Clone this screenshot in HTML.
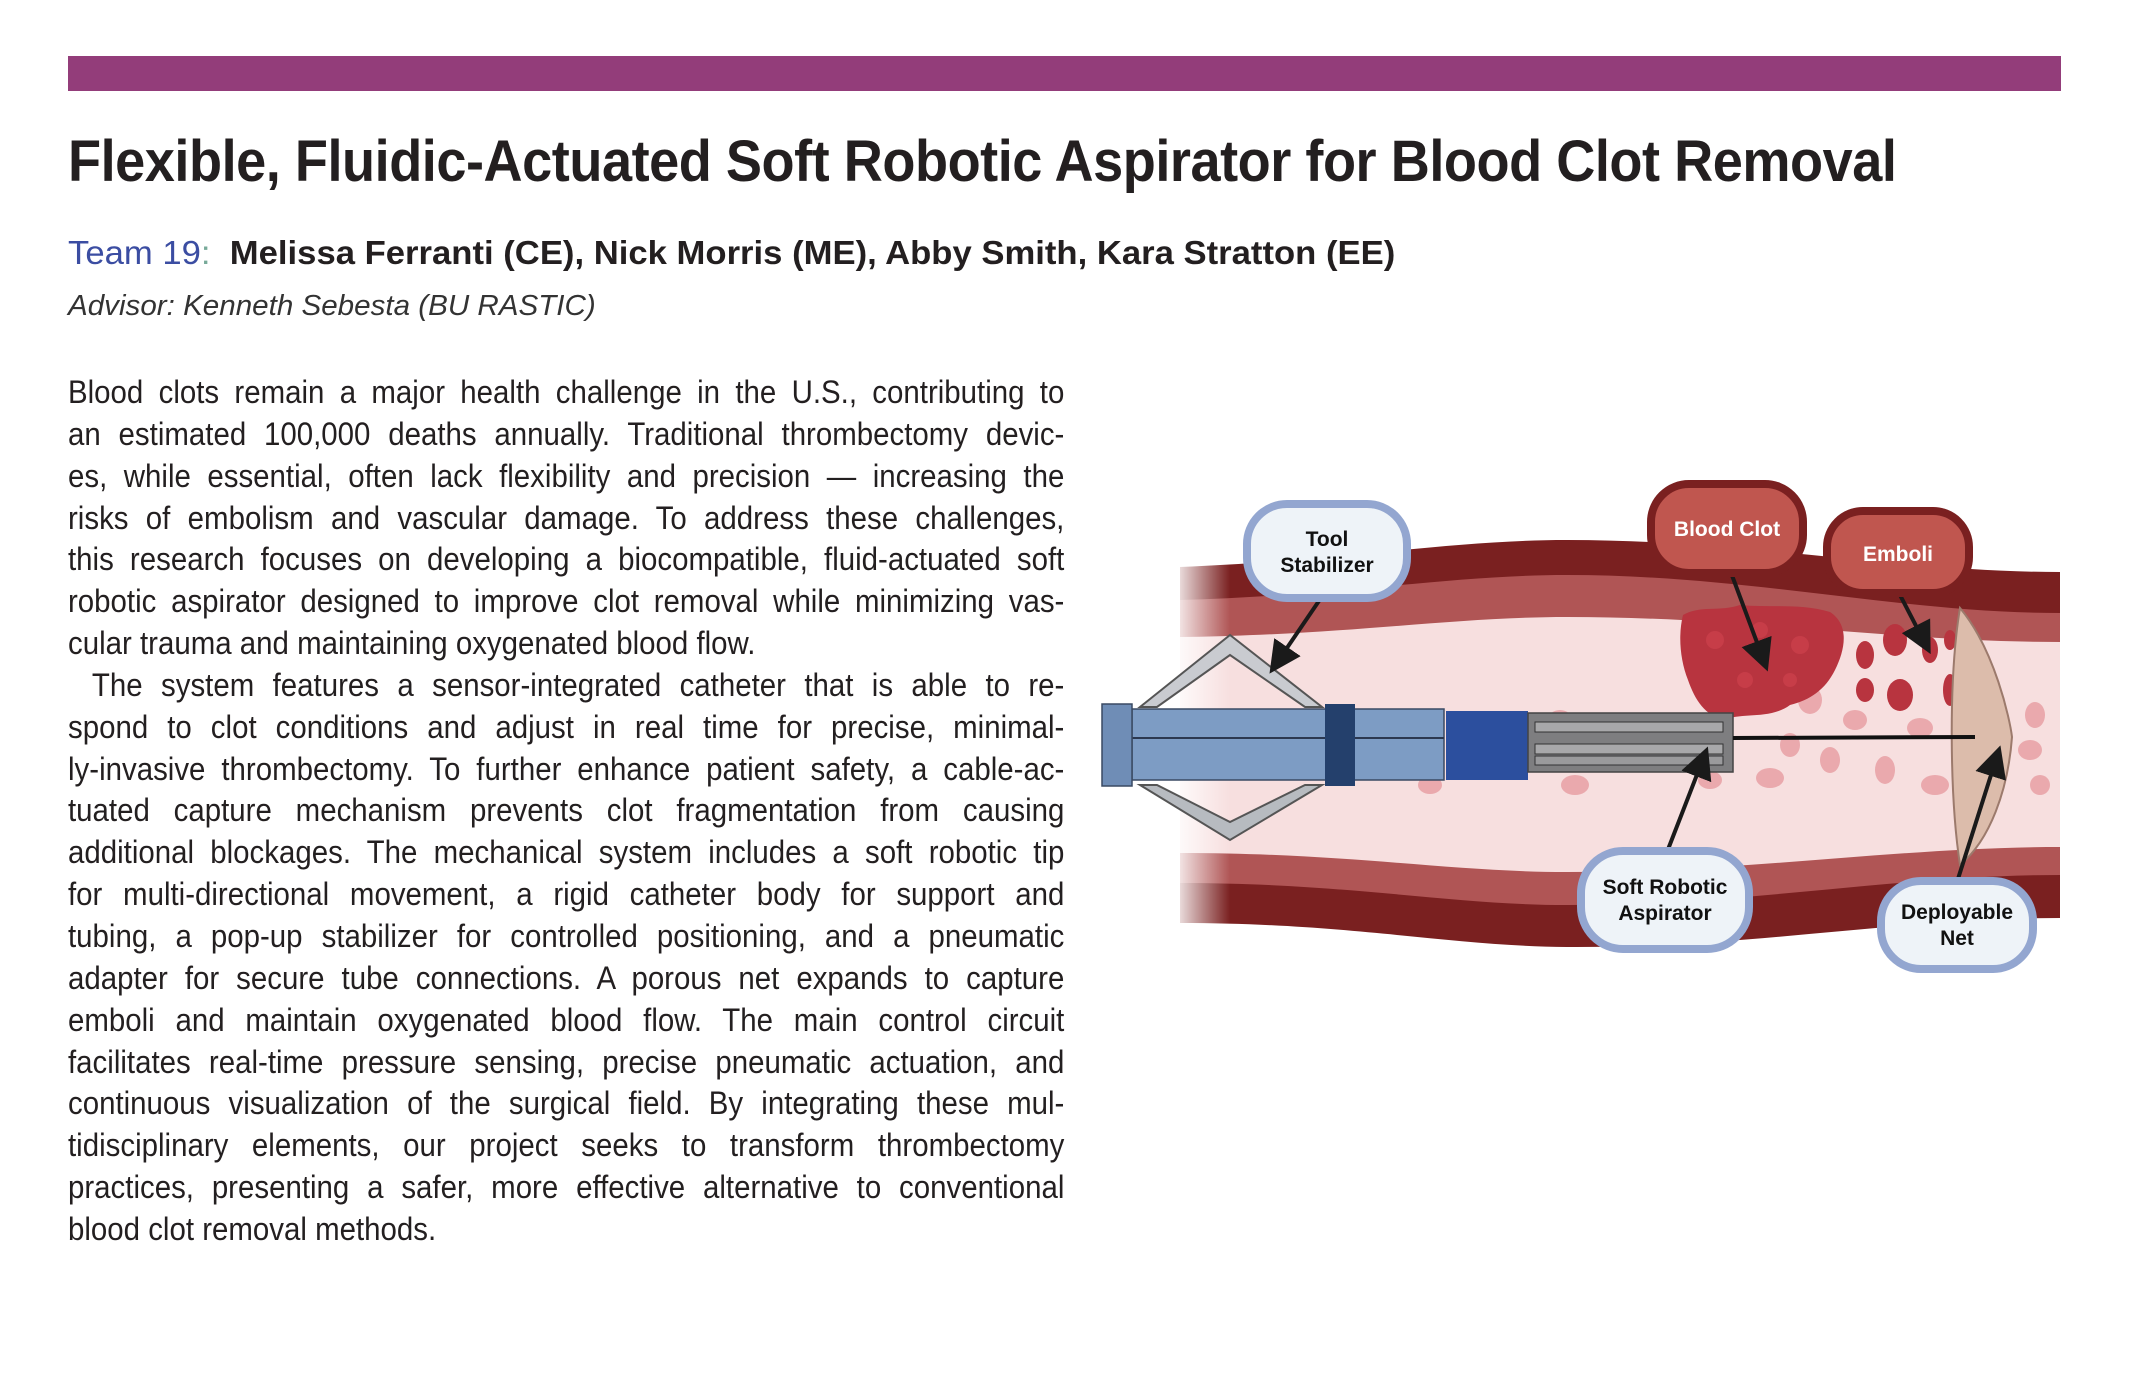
<!DOCTYPE html>
<html><head><meta charset="utf-8"><style>
body{margin:0;width:2130px;height:1376px;background:#fff;position:relative;overflow:hidden;font-family:"Liberation Sans",sans-serif;color:#231f20}
.bar{position:absolute;left:68px;top:56px;width:1993px;height:35px;background:#933d7a}
.title{position:absolute;left:68px;top:128px;font-size:58px;font-weight:bold;white-space:nowrap;transform:scaleX(0.933);transform-origin:left top;letter-spacing:-0.5px}
.team{position:absolute;left:68px;top:234px;font-size:33px;white-space:nowrap;transform:scaleX(1.05);transform-origin:left top}
.team .t{color:#3b4da2}.team b{color:#231f20}
.adv{position:absolute;left:68px;top:290px;font-size:29px;font-style:italic;white-space:nowrap;color:#333;transform:scaleX(1.02);transform-origin:left top}
.body{position:absolute;left:68px;top:372px;width:1083px;font-size:32px;transform:scaleX(0.92);transform-origin:left top}
.body div{height:41.85px;line-height:41.85px;text-align:justify;text-align-last:justify;white-space:nowrap}
.body div.l{text-align-last:left}
.body div.i{padding-left:26px}
svg{position:absolute;left:0;top:0}
</style></head><body>
<div class="bar"></div>
<div class="title">Flexible, Fluidic-Actuated Soft Robotic Aspirator for Blood Clot Removal</div>
<div class="team"><span class="t">Team 19</span><span style="color:#7a9">:</span>&nbsp; <b>Melissa Ferranti (CE), Nick Morris (ME), Abby Smith, Kara Stratton (EE)</b></div>
<div class="adv">Advisor: Kenneth Sebesta (BU RASTIC)</div>
<div class="body">
<div>Blood clots remain a major health challenge in the U.S., contributing to</div>
<div>an estimated 100,000 deaths annually. Traditional thrombectomy devic-</div>
<div>es, while essential, often lack flexibility and precision — increasing the</div>
<div>risks of embolism and vascular damage. To address these challenges,</div>
<div>this research focuses on developing a biocompatible, fluid-actuated soft</div>
<div>robotic aspirator designed to improve clot removal while minimizing vas-</div>
<div class="l">cular trauma and maintaining oxygenated blood flow.</div>
<div class="i">The system features a sensor-integrated catheter that is able to re-</div>
<div>spond to clot conditions and adjust in real time for precise, minimal-</div>
<div>ly-invasive thrombectomy. To further enhance patient safety, a cable-ac-</div>
<div>tuated capture mechanism prevents clot fragmentation from causing</div>
<div>additional blockages. The mechanical system includes a soft robotic tip</div>
<div>for multi-directional movement, a rigid catheter body for support and</div>
<div>tubing, a pop-up stabilizer for controlled positioning, and a pneumatic</div>
<div>adapter for secure tube connections. A porous net expands to capture</div>
<div>emboli and maintain oxygenated blood flow. The main control circuit</div>
<div>facilitates real-time pressure sensing, precise pneumatic actuation, and</div>
<div>continuous visualization of the surgical field. By integrating these mul-</div>
<div>tidisciplinary elements, our project seeks to transform thrombectomy</div>
<div>practices, presenting a safer, more effective alternative to conventional</div>
<div class="l">blood clot removal methods.</div>
</div>
<svg width="2130" height="1376" viewBox="0 0 2130 1376">
<defs>
<linearGradient id="fade" x1="0" x2="1"><stop offset="0" stop-color="#fff" stop-opacity="1"/><stop offset="1" stop-color="#fff" stop-opacity="0"/></linearGradient>
<marker id="ah" markerWidth="8" markerHeight="8" refX="6" refY="4" orient="auto" markerUnits="strokeWidth"><path d="M0,0 L8,4 L0,8 Z" fill="#1a1a1a"/></marker>
</defs>
<path d="M1180,567 C1350,560 1450,540 1567,540 C1750,540 1900,572 2060,572 L2060,918 C1900,918 1750,948 1567,947 C1450,946 1350,923 1180,923 Z" fill="#7a2020"/>
<path d="M1180,600 C1350,595 1450,575 1567,575 C1750,575 1900,613 2060,613 L2060,875 C1900,875 1750,905 1567,905 C1450,905 1350,883 1180,883 Z" fill="#b05555"/>
<path d="M1180,637 C1350,635 1450,617 1567,617 C1750,617 1900,642 2060,642 L2060,847 C1900,847 1750,872 1567,872 C1450,872 1350,853 1180,853 Z" fill="#f7dfdf"/>
<rect x="1170" y="530" width="60" height="430" fill="url(#fade)"/>
<g fill="#e8a0a5" opacity="0.85">
<ellipse cx="1410" cy="722" rx="12" ry="9"/><ellipse cx="1430" cy="785" rx="12" ry="9"/><ellipse cx="1470" cy="720" rx="10" ry="8"/>
<ellipse cx="1560" cy="720" rx="12" ry="10"/><ellipse cx="1575" cy="785" rx="14" ry="10"/><ellipse cx="1620" cy="730" rx="10" ry="12"/>
<ellipse cx="1760" cy="700" rx="12" ry="10"/><ellipse cx="1790" cy="745" rx="10" ry="12"/><ellipse cx="1770" cy="778" rx="14" ry="10"/>
<ellipse cx="1810" cy="700" rx="12" ry="14"/><ellipse cx="1830" cy="760" rx="10" ry="13"/><ellipse cx="1855" cy="720" rx="12" ry="10"/>
<ellipse cx="1885" cy="770" rx="10" ry="14"/><ellipse cx="1920" cy="728" rx="13" ry="10"/><ellipse cx="1935" cy="785" rx="14" ry="10"/>
<ellipse cx="1900" cy="700" rx="10" ry="9"/><ellipse cx="2035" cy="715" rx="10" ry="13"/><ellipse cx="2030" cy="750" rx="12" ry="10"/>
<ellipse cx="2040" cy="785" rx="10" ry="10"/><ellipse cx="1710" cy="780" rx="12" ry="9"/><ellipse cx="1690" cy="730" rx="10" ry="9"/>
</g>
<path d="M1683,615 C1700,605 1720,612 1740,605 C1770,608 1800,603 1830,612 C1850,625 1845,650 1835,670 C1825,690 1810,700 1790,705 C1770,720 1740,712 1725,720 C1705,716 1695,700 1688,680 C1680,660 1678,635 1683,615 Z" fill="#b8343f"/>
<g fill="#c93e4a" opacity="0.9"><circle cx="1715" cy="640" r="9"/><circle cx="1760" cy="630" r="8"/><circle cx="1800" cy="645" r="9"/><circle cx="1745" cy="680" r="8"/><circle cx="1790" cy="680" r="7"/></g>
<g fill="#b8343f">
<ellipse cx="1865" cy="655" rx="9" ry="14"/><ellipse cx="1895" cy="640" rx="12" ry="16"/><ellipse cx="1900" cy="695" rx="13" ry="16"/>
<ellipse cx="1930" cy="650" rx="8" ry="13"/><ellipse cx="1865" cy="690" rx="9" ry="12"/><ellipse cx="1950" cy="690" rx="7" ry="16"/><ellipse cx="1950" cy="640" rx="6" ry="10"/>
</g>
<path d="M1960,608 C1995,650 2010,720 2012,737 C2008,790 1990,840 1960,865 C1950,800 1948,680 1960,608 Z" fill="#dcbcab" stroke="#9c7a6c" stroke-width="2"/>
<path d="M1140,707 L1230,635 L1322,707 L1305,707 L1230,655 L1157,707 Z" fill="#c9cbd0" stroke="#555" stroke-width="2"/>
<path d="M1140,785 L1230,840 L1322,785 L1305,785 L1230,822 L1157,785 Z" fill="#b7bbc0" stroke="#555" stroke-width="2"/>
<rect x="1132" y="709" width="312" height="71" fill="#7d9cc4" stroke="#3a4a63" stroke-width="1.5"/>
<line x1="1132" y1="738" x2="1444" y2="738" stroke="#2b3850" stroke-width="2"/>
<rect x="1102" y="704" width="30" height="82" fill="#6f8db6" stroke="#3a4a63" stroke-width="1.5"/>
<rect x="1325" y="704" width="30" height="82" fill="#24406c"/>
<rect x="1446" y="711" width="82" height="69" fill="#2c4f9e"/>
<rect x="1528" y="713" width="205" height="59" fill="#7e7e80" stroke="#444" stroke-width="1.5"/>
<rect x="1535" y="722" width="188" height="10" fill="#a8a8aa" stroke="#333"/>
<rect x="1535" y="744" width="188" height="10" fill="#a8a8aa" stroke="#333"/>
<rect x="1535" y="756" width="188" height="9" fill="#9a9a9c" stroke="#333"/>
<line x1="1733" y1="738" x2="1975" y2="737" stroke="#111" stroke-width="4"/>
<g stroke="#1a1a1a" stroke-width="4" fill="none" marker-end="url(#ah)">
<line x1="1323" y1="595" x2="1274" y2="667"/>
<line x1="1730" y1="570" x2="1765" y2="664"/>
<line x1="1900" y1="595" x2="1927" y2="647"/>
<line x1="1667" y1="852" x2="1705" y2="754"/>
<line x1="1957" y1="882" x2="1998" y2="753"/>
</g>
<g font-family="Liberation Sans, sans-serif" font-weight="bold" font-size="21" text-anchor="middle">
<rect x="1247" y="504" width="160" height="94" rx="40" fill="#eef3f8" stroke="#93a6d0" stroke-width="8"/>
<text x="1327" y="546" fill="#111">Tool</text><text x="1327" y="572" fill="#111">Stabilizer</text>
<rect x="1651" y="484" width="152" height="89" rx="38" fill="#c0564f" stroke="#7a2020" stroke-width="8"/>
<text x="1727" y="536" fill="#fff">Blood Clot</text>
<rect x="1827" y="511" width="142" height="82" rx="36" fill="#c0564f" stroke="#7a2020" stroke-width="8"/>
<text x="1898" y="561" fill="#fff">Emboli</text>
<rect x="1581" y="851" width="168" height="98" rx="42" fill="#eef3f8" stroke="#93a6d0" stroke-width="8"/>
<text x="1665" y="894" fill="#111">Soft Robotic</text><text x="1665" y="920" fill="#111">Aspirator</text>
<rect x="1881" y="881" width="152" height="88" rx="40" fill="#eef3f8" stroke="#93a6d0" stroke-width="8"/>
<text x="1957" y="919" fill="#111">Deployable</text><text x="1957" y="945" fill="#111">Net</text>
</g>
</svg>
</body></html>
